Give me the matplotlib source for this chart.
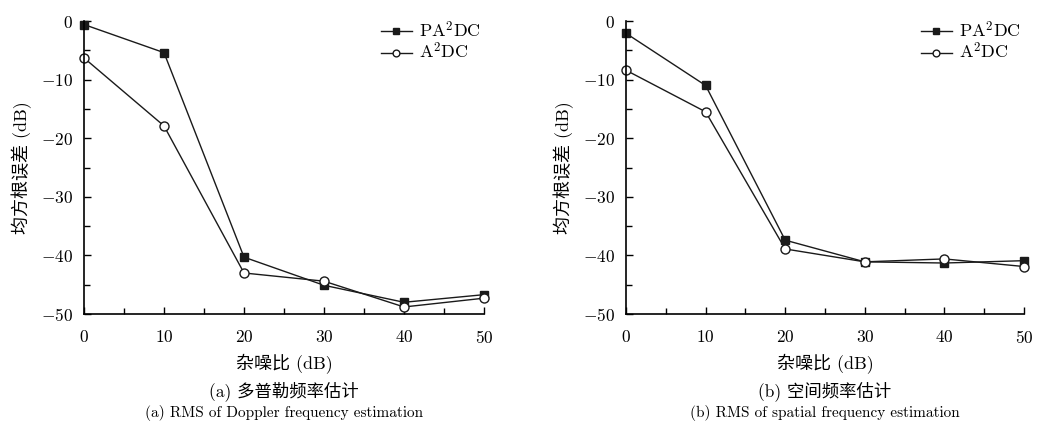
import matplotlib
matplotlib.use('Agg')
import matplotlib.pyplot as plt
from matplotlib.ticker import MultipleLocator

plt.rcParams['font.family'] = ['cmr10', 'Noto Sans CJK SC']
plt.rcParams['mathtext.fontset'] = 'cm'
plt.rcParams['axes.formatter.use_mathtext'] = True
plt.rcParams['font.size'] = 11

snr = [0, 10, 20, 30, 40, 50]

# (a) Doppler frequency
dop_pa2dc = [-0.6, -5.4, -40.3, -45.1, -48.0, -46.7]
dop_a2dc = [-6.3, -17.9, -43.0, -44.4, -48.8, -47.3]

# (b) spatial frequency
spa_pa2dc = [-2.1, -11.0, -37.4, -41.1, -41.3, -40.9]
spa_a2dc = [-8.4, -15.5, -38.9, -41.1, -40.6, -41.9]

captions_cn = ['(a) 多普勒频率估计', '(b) 空间频率估计']
captions_en = ['(a) RMS of Doppler frequency estimation', '(b) RMS of spatial frequency estimation']

fig = plt.figure(figsize=(10.45, 4.22), dpi=100)
ax1 = fig.add_axes([84/1045, 108/422, 400/1045, 293/422])
ax2 = fig.add_axes([626/1045, 108/422, 398/1045, 293/422])

panels = [(ax1, dop_pa2dc, dop_a2dc), (ax2, spa_pa2dc, spa_a2dc)]
for i, (ax, pa, a) in enumerate(panels):
    ax.plot(snr, pa, color='#1a1a1a', lw=1, marker='s', ms=6, mfc='#1a1a1a', mec='#1a1a1a', label='PA$^2$DC')
    ax.plot(snr, a, color='#1a1a1a', lw=1, marker='o', ms=6.5, mfc='white', mec='#1a1a1a', label='A$^2$DC')
    ax.set_xlim(0, 50)
    ax.set_ylim(-50, 0)
    ax.xaxis.set_major_locator(MultipleLocator(10))
    ax.xaxis.set_minor_locator(MultipleLocator(5))
    ax.yaxis.set_major_locator(MultipleLocator(10))
    ax.yaxis.set_minor_locator(MultipleLocator(5))
    ax.tick_params(which='both', direction='in', width=1, labelsize=12.5)
    ax.tick_params(which='major', length=5)
    ax.tick_params(which='minor', length=4)
    ax.tick_params(axis='x', which='major', pad=11)
    ax.tick_params(axis='y', which='major', pad=8)
    for s in ['top', 'right']:
        ax.spines[s].set_visible(False)
    for s in ['left', 'bottom']:
        ax.spines[s].set_linewidth(1.2)
    for line in ax.get_lines():
        line.set_clip_on(False)
    ax.set_xlabel('杂噪比 (dB)', fontsize=13, labelpad=5)
    ax.set_ylabel('均方根误差 (dB)', fontsize=13, labelpad=6)
    ax.legend(loc='upper right', frameon=False, fontsize=13, handlelength=1.7,
              handletextpad=0.4, labelspacing=0.08, borderaxespad=0.0,
              bbox_to_anchor=(1.01, 1.03), markerscale=0.75)
    bbox = ax.get_position()
    cx = (bbox.x0 + bbox.x1) / 2
    fig.text(cx, 1 - 391/422, captions_cn[i], ha='center', va='center', fontsize=12.5)
    fig.text(cx, 1 - 413/422, captions_en[i], ha='center', va='center', fontsize=11)

fig.savefig('out.png', dpi=100)
